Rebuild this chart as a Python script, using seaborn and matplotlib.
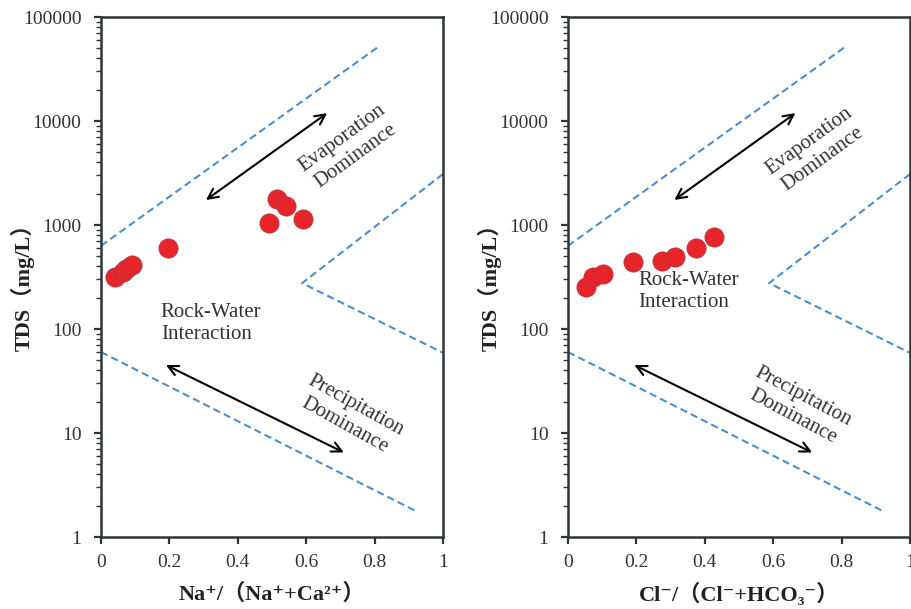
import numpy as np
import pandas as pd
import matplotlib
matplotlib.use("Agg")
import matplotlib.pyplot as plt
import seaborn as sns
from matplotlib.ticker import LogLocator, FixedLocator, NullFormatter

# ---------------- data ----------------
na_ratio = [0.041, 0.064, 0.072, 0.091, 0.195, 0.492, 0.514, 0.541, 0.592]
na_tds = [316, 355, 378, 410, 600, 1040, 1780, 1520, 1140]

cl_ratio = [0.053, 0.073, 0.102, 0.190, 0.275, 0.313, 0.374, 0.427]
cl_tds = [251, 316, 340, 440, 451, 490, 600, 767]

# Gibbs boundary lines
upper_x = [0.0, 0.81]
upper_y = [631, 51500]
vee_x = [1.0, 0.588, 1.0]
vee_y = [3090, 276, 59]
lower_x = [0.0, 0.92]
lower_y = [60, 1.78]

# arrows (start, end)
evap_arrow = [(0.307, 1740), (0.661, 11900)]
prec_arrow = [(0.19, 45), (0.71, 6.5)]

x_ticks = [0, 0.2, 0.4, 0.6, 0.8, 1]
x_tick_labels = ["0", "0.2", "0.4", "0.6", "0.8", "1"]
y_ticks = [1, 10, 100, 1000, 10000, 100000]
y_tick_labels = ["1", "10", "100", "1000", "10000", "100000"]

left_xlabel = "Na\u207A/\uFF08Na\u207A+Ca\u00B2\u207A\uFF09"
right_xlabel = "Cl\u207B/\uFF08Cl\u207B+HCO\u2083\u207B\uFF09"
ylabel = "TDS\uFF08mg/L\uFF09"

# ---------------- style ----------------
sns.set_theme(style="white")
plt.rcParams["font.family"] = ["Liberation Serif", "DejaVu Serif", "Noto Sans CJK SC"]
label_family = ["Liberation Serif", "DejaVu Serif", "Noto Sans CJK SC"]

RED = "#e8242b"
BLUE = "#4a8fcf"
FRAME = "#2d3538"
TXT = "#333333"
FS_ANN = 15

fig = plt.figure(figsize=(9.11, 6.09), dpi=100)
ax_l = fig.add_axes([101 / 911, 1 - 537 / 609, 342 / 911, 520 / 609])
ax_r = fig.add_axes([568 / 911, 1 - 537 / 609, 342 / 911, 520 / 609])


def style_axes(ax, xlabel):
    ax.set_yscale("log")
    ax.set_xlim(0, 1)
    ax.set_ylim(1, 100000)
    ax.xaxis.set_major_locator(FixedLocator(x_ticks))
    ax.set_xticklabels(x_tick_labels)
    ax.yaxis.set_major_locator(FixedLocator(y_ticks))
    ax.set_yticklabels(y_tick_labels)
    ax.yaxis.set_minor_locator(LogLocator(base=10, subs=np.arange(2, 10)))
    ax.yaxis.set_minor_formatter(NullFormatter())
    ax.tick_params(axis="both", which="major", direction="out", length=5, width=1.6,
                   color=FRAME, labelsize=14, labelcolor=TXT)
    ax.tick_params(axis="x", which="major", pad=7, bottom=True)
    ax.tick_params(axis="y", which="major", pad=9, left=True)
    ax.tick_params(axis="y", which="minor", direction="out", length=3.5, width=1.0,
                   color=FRAME, left=True)
    for s in ax.spines.values():
        s.set_visible(True)
        s.set_color(FRAME)
        s.set_linewidth(1.8)
    ax.set_xlabel(xlabel, fontsize=16, fontweight="bold", family=label_family,
                  color="#222222", labelpad=9)
    ax.set_ylabel(ylabel, fontsize=16, fontweight="bold", family=label_family,
                  color="#222222")
    ax.yaxis.set_label_coords(-0.193, 0.49)


def draw_boundaries(ax):
    for xs, ys in [(upper_x, upper_y), (vee_x, vee_y), (lower_x, lower_y)]:
        ax.plot(xs, ys, color=BLUE, lw=1.5, dashes=(3.5, 2.0), zorder=2, clip_on=True)


def draw_arrows(ax, dx=0.0):
    for (s, e) in [evap_arrow, prec_arrow]:
        ax.annotate("", xy=(e[0] + dx, e[1]), xytext=(s[0] + dx, s[1]),
                    arrowprops=dict(arrowstyle="<->", color="black", lw=1.5,
                                    mutation_scale=18, shrinkA=0, shrinkB=0),
                    zorder=3)


# ---------------- left panel ----------------
df_l = pd.DataFrame({"ratio": na_ratio, "tds": na_tds})
draw_boundaries(ax_l)
sns.scatterplot(data=df_l, x="ratio", y="tds", ax=ax_l, color=RED, s=190,
                edgecolor="#b0353a", linewidth=0.6, zorder=4, legend=False)
draw_arrows(ax_l)
ax_l.text(0.725, 5620, "Evaporation\nDominance", rotation=36, ha="center", va="center",
          rotation_mode="anchor", fontsize=FS_ANN, color=TXT, linespacing=1.25)
ax_l.text(0.175, 112, "Rock-Water\nInteraction", ha="left", va="center",
          fontsize=FS_ANN, color=TXT, linespacing=1.2)
ax_l.text(0.728, 14.8, "Precipitation\nDominance", rotation=-29, ha="center", va="center",
          rotation_mode="anchor", fontsize=FS_ANN, color=TXT, linespacing=1.25)
style_axes(ax_l, left_xlabel)

# ---------------- right panel ----------------
df_r = pd.DataFrame({"ratio": cl_ratio, "tds": cl_tds})
draw_boundaries(ax_r)
sns.scatterplot(data=df_r, x="ratio", y="tds", ax=ax_r, color=RED, s=190,
                edgecolor="#b0353a", linewidth=0.6, zorder=4, legend=False)
draw_arrows(ax_r, dx=0.004)
ax_r.text(0.725, 5250, "Evaporation\nDominance", rotation=36, ha="center", va="center",
          rotation_mode="anchor", fontsize=FS_ANN, color=TXT, linespacing=1.25)
ax_r.text(0.205, 229, "Rock-Water\nInteraction", ha="left", va="center",
          fontsize=FS_ANN, color=TXT, linespacing=1.2)
ax_r.text(0.672, 17.8, "Precipitation\nDominance", rotation=-28, ha="center", va="center",
          rotation_mode="anchor", fontsize=FS_ANN, color=TXT, linespacing=1.25)
style_axes(ax_r, right_xlabel)

fig.savefig("out.png", dpi=100)
